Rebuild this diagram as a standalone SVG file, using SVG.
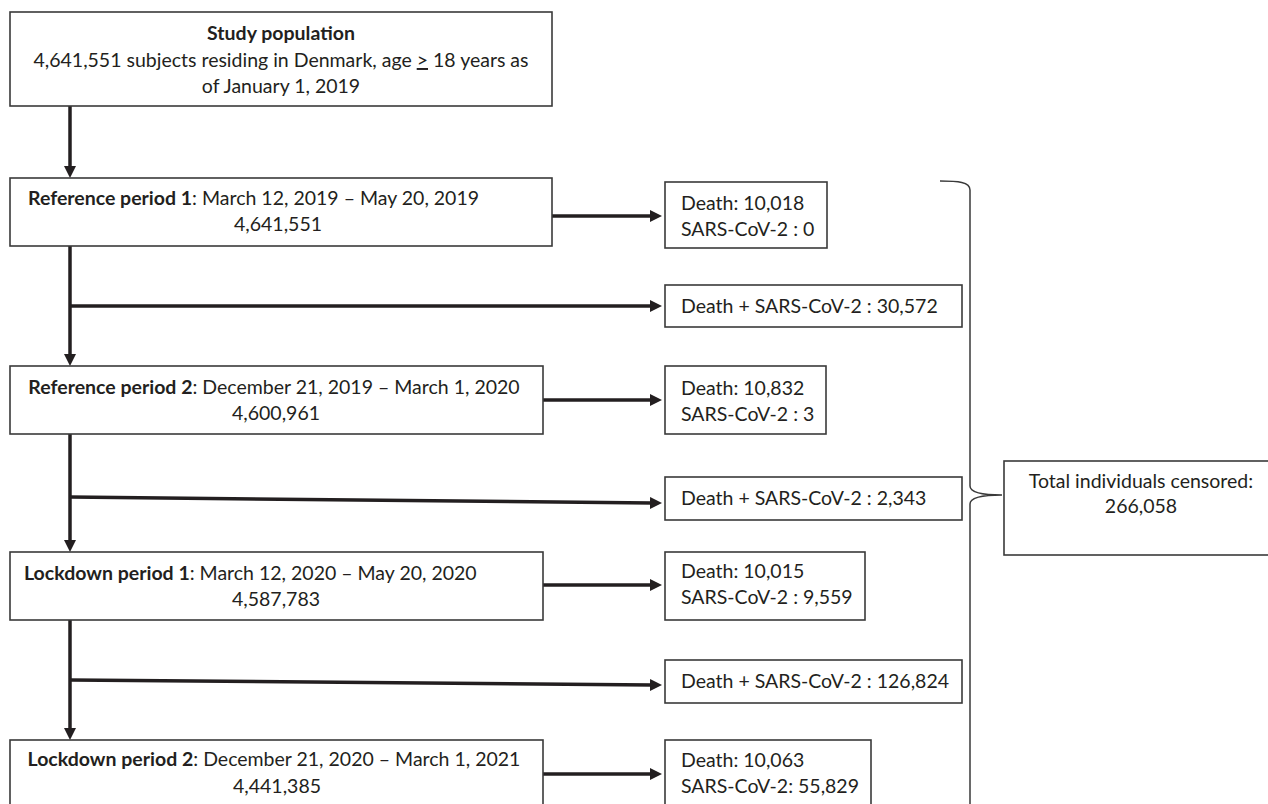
<svg xmlns="http://www.w3.org/2000/svg" width="1268" height="804" viewBox="0 0 1268 804">
<defs>
<marker id="ah" markerUnits="userSpaceOnUse" markerWidth="12" markerHeight="12" refX="2" refY="6" orient="auto"><path d="M0,0 L12,6 L0,12 z" fill="#231f20"/></marker>
<style>
.box{fill:#fff;stroke:#3a3a3a;stroke-width:1.6}
.t{font-family:Lato,"Open Sans",sans-serif;font-size:19.5px;fill:#231f20}
.b{font-weight:bold}
.c{text-anchor:middle}
.conn line{stroke:#231f20;stroke-width:3.5;fill:none}
.brace{stroke:#3a3a3a;stroke-width:1.5;fill:none}
</style>
</defs>
<rect width="1268" height="804" fill="#fff"/>
<g id="connectors" class="conn">
<line x1="70" y1="106" x2="70" y2="168" marker-end="url(#ah)"/>
<line x1="552" y1="216" x2="652" y2="216" marker-end="url(#ah)"/>
<line x1="70" y1="246" x2="70" y2="356" marker-end="url(#ah)"/>
<line x1="70" y1="306" x2="652" y2="306" marker-end="url(#ah)"/>
<line x1="543" y1="400" x2="652" y2="400" marker-end="url(#ah)"/>
<line x1="70" y1="434" x2="70" y2="542" marker-end="url(#ah)"/>
<line x1="70" y1="497" x2="652" y2="503" marker-end="url(#ah)"/>
<line x1="543" y1="585" x2="652" y2="585" marker-end="url(#ah)"/>
<line x1="70" y1="620" x2="70" y2="730" marker-end="url(#ah)"/>
<line x1="70" y1="680" x2="652" y2="685" marker-end="url(#ah)"/>
<line x1="543" y1="774" x2="652" y2="774" marker-end="url(#ah)"/>
</g>
<g id="brace">
<path class="brace" d="M940,181 C958,181 970,182 970,190 L970,486 C970,492 980,495 1002,495 C980,495 970,498 970,504 L970,806"/>
</g>
<g id="study-population">
<rect class="box" x="10" y="12" width="542" height="94"/>
<text class="t b c" x="281" y="40">Study population</text>
<text class="t c" x="281" y="67">4,641,551 subjects residing in Denmark, age <tspan text-decoration="underline">&gt;</tspan> 18 years as</text>
<text class="t c" x="281" y="93">of January 1, 2019</text>
</g>
<g id="reference-period-1">
<rect class="box" x="10" y="178" width="542" height="68"/>
<text class="t" x="28" y="205"><tspan class="b">Reference period 1</tspan>: March 12, 2019 – May 20, 2019</text>
<text class="t c" x="278" y="231">4,641,551</text>
</g>
<g id="censored-1">
<rect class="box" x="665" y="182" width="162" height="66"/>
<text class="t" x="681" y="210">Death: 10,018</text>
<text class="t" x="681" y="236">SARS-CoV-2 : 0</text>
</g>
<g id="censored-1b">
<rect class="box" x="665" y="285" width="297" height="42"/>
<text class="t" x="681" y="313">Death + SARS-CoV-2 : 30,572</text>
</g>
<g id="reference-period-2">
<rect class="box" x="10" y="366" width="533" height="68"/>
<text class="t c" x="274" y="394"><tspan class="b">Reference period 2</tspan>: December 21, 2019 – March 1, 2020</text>
<text class="t c" x="276" y="420">4,600,961</text>
</g>
<g id="censored-2">
<rect class="box" x="665" y="366" width="161" height="68"/>
<text class="t" x="681" y="395">Death: 10,832</text>
<text class="t" x="681" y="421">SARS-CoV-2 : 3</text>
</g>
<g id="censored-2b">
<rect class="box" x="665" y="477" width="297" height="43"/>
<text class="t" x="681" y="505">Death + SARS-CoV-2 : 2,343</text>
</g>
<g id="lockdown-period-1">
<rect class="box" x="10" y="552" width="533" height="68"/>
<text class="t" x="24" y="580"><tspan class="b">Lockdown period 1</tspan>: March 12, 2020 – May 20, 2020</text>
<text class="t c" x="276" y="606">4,587,783</text>
</g>
<g id="censored-3">
<rect class="box" x="665" y="552" width="200" height="68"/>
<text class="t" x="681" y="578">Death: 10,015</text>
<text class="t" x="681" y="604">SARS-CoV-2 : 9,559</text>
</g>
<g id="censored-3b">
<rect class="box" x="665" y="660" width="297" height="43"/>
<text class="t" x="681" y="688">Death + SARS-CoV-2 : 126,824</text>
</g>
<g id="lockdown-period-2">
<rect class="box" x="10" y="740" width="533" height="70"/>
<text class="t c" x="274" y="766"><tspan class="b">Lockdown period 2</tspan>: December 21, 2020 – March 1, 2021</text>
<text class="t c" x="277" y="793">4,441,385</text>
</g>
<g id="censored-4">
<rect class="box" x="665" y="740" width="206" height="70"/>
<text class="t" x="681" y="767">Death: 10,063</text>
<text class="t" x="681" y="793">SARS-CoV-2: 55,829</text>
</g>
<g id="total-censored">
<rect class="box" x="1004" y="461" width="270" height="94"/>
<text class="t c" x="1141" y="488">Total individuals censored:</text>
<text class="t c" x="1141" y="513">266,058</text>
</g>
</svg>
